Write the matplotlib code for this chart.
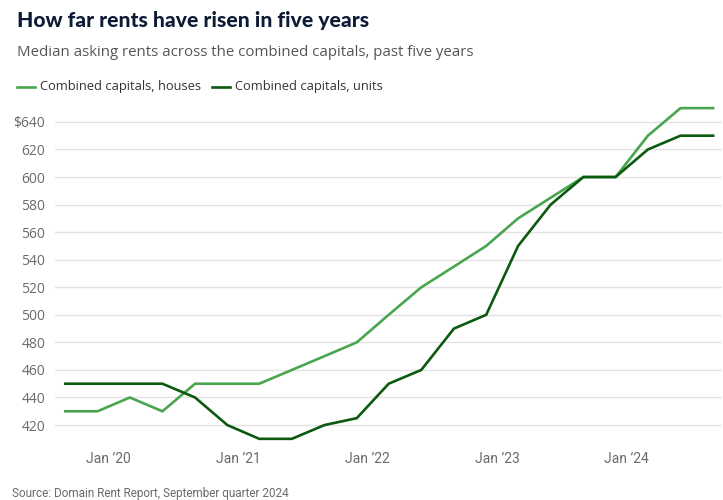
import datetime as dt
import matplotlib
matplotlib.use("Agg")
import matplotlib.pyplot as plt
from matplotlib import font_manager
from matplotlib.lines import Line2D

# quarterly observations, Sep 2019 .. Sep 2024
START = dt.date(2019, 9, 1)
N_QUARTERS = 21
houses = [430, 430, 440, 430, 450, 450, 450, 460, 470, 480, 500,
          520, 535, 550, 570, 585, 600, 600, 630, 650, 650]
units = [450, 450, 450, 450, 440, 420, 410, 410, 420, 425, 450,
         460, 490, 500, 550, 580, 600, 600, 620, 630, 630]
y_ticks = [420, 440, 460, 480, 500, 520, 540, 560, 580, 600, 620, 640]
x_tick_years = [2020, 2021, 2022, 2023, 2024]

HOUSE_COL = "#4aa54f"
UNIT_COL = "#0b5a0f"
TEXT_COL = "#6b6b6b"

names = {f.name for f in font_manager.fontManager.ttflist}
NARROW = "Liberation Sans Narrow" if "Liberation Sans Narrow" in names else "Roboto"
print("narrow font:", NARROW)


def quarter_dates(start, n):
	out = []
	for i in range(n):
		m = start.month - 1 + 3 * i
		out.append(dt.date(start.year + m // 12, m % 12 + 1, 1))
	return out


dates = quarter_dates(START, N_QUARTERS)

fig = plt.figure(figsize=(7.23, 5), dpi=100)
ax = fig.add_axes([55 / 723, 1 - 442 / 500, 1 - 56 / 723, 338 / 500])

ax.plot(dates, houses, color=HOUSE_COL, lw=1.9, solid_joinstyle="miter", zorder=3)
ax.plot(dates, units, color=UNIT_COL, lw=1.9, solid_joinstyle="miter", zorder=4)

ax.set_ylim(407.7, 653)
ax.set_xlim(dt.date(2019, 8, 3), dt.date(2024, 9, 26))
ax.set_yticks(y_ticks)
ax.set_yticklabels([("$" if v == y_ticks[-1] else "") + str(v) for v in y_ticks])
ax.set_xticks([dt.date(y, 1, 1) for y in x_tick_years])
ax.set_xticklabels(["Jan \u2019" + str(y)[2:] for y in x_tick_years])

ax.grid(axis="y", color="#e3e3e3", lw=1)
ax.set_axisbelow(True)
for s in ax.spines.values():
	s.set_visible(False)
ax.tick_params(length=0, colors=TEXT_COL)
ax.tick_params(axis="y", pad=7)
ax.tick_params(axis="x", pad=7)
for lab in ax.get_yticklabels():
	lab.set_family(["Open Sans", "DejaVu Sans"])
	lab.set_fontsize(10)
for lab in ax.get_xticklabels():
	lab.set_family([NARROW, "DejaVu Sans"])
	lab.set_fontsize(10)

fig.text(17 / 723, 1 - 21 / 500, "How far rents have risen in five years",
	fontsize=15.2, fontweight=900, color="#0d1b36", family="Lato", va="center")
fig.text(17 / 723, 1 - 53 / 500, "Median asking rents across the combined capitals, past five years",
	fontsize=10.8, color="#555555", family="Open Sans", va="center")

# legend row
leg_y = 1 - 87 / 500
for x0, col, label in [(17, HOUSE_COL, "Combined capitals, houses"),
                      (212, UNIT_COL, "Combined capitals, units")]:
	fig.add_artist(Line2D([x0 / 723, (x0 + 18) / 723], [leg_y, leg_y],
		color=col, lw=1.9, transform=fig.transFigure))
	fig.text((x0 + 23) / 723, leg_y, label, fontsize=9.3, color="#333333",
		family="Open Sans", va="center")

fig.text(12 / 723, 1 - 493 / 500, "Source: Domain Rent Report, September quarter 2024",
	fontsize=8.5, color=TEXT_COL, family=[NARROW, "DejaVu Sans"], va="center")

fig.savefig("out.png", dpi=100)
